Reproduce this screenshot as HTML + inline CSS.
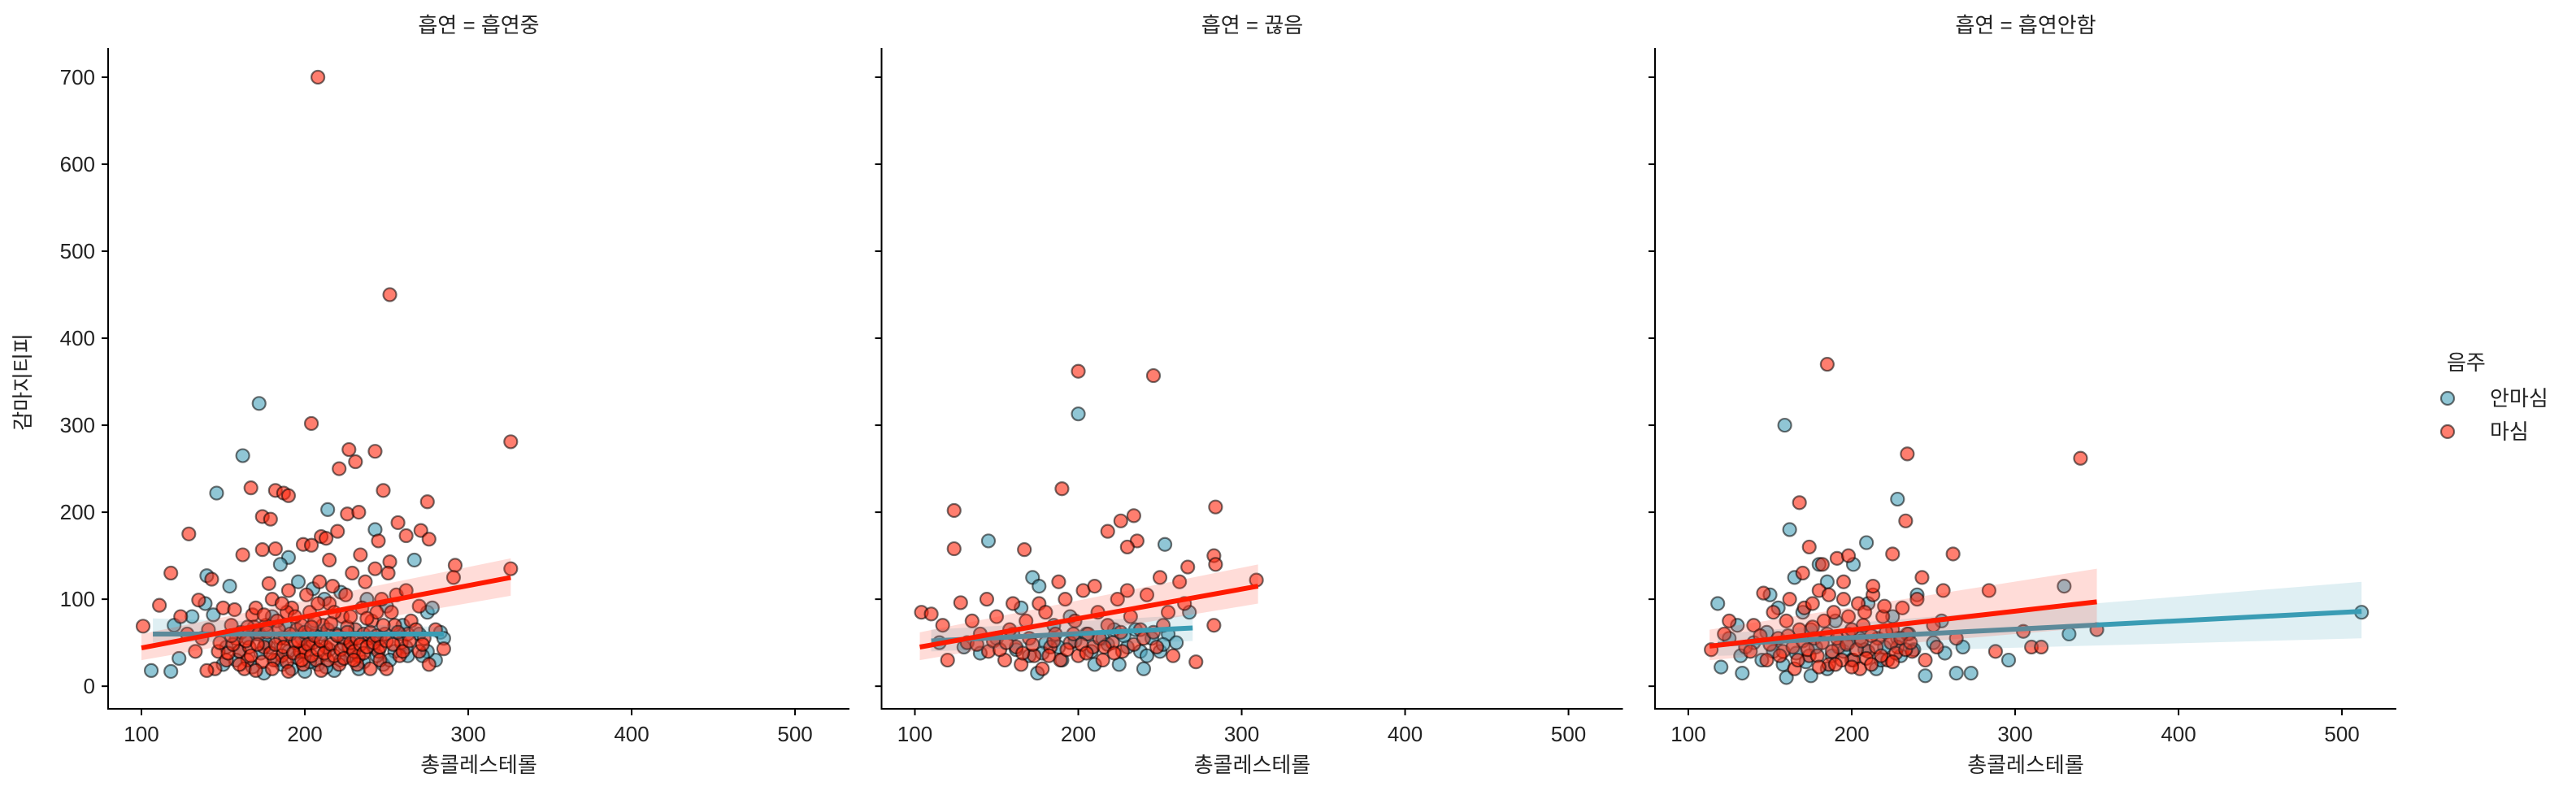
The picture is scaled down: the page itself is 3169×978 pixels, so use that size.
<!DOCTYPE html>
<html><head><meta charset="utf-8">
<style>
html,body{margin:0;padding:0;background:#fff;}
svg{display:block;font-family:"Liberation Sans","Noto Sans CJK KR",sans-serif;}
</style></head>
<body>
<svg id="chart" width="3169" height="978" viewBox="0 0 3169 978" xmlns="http://www.w3.org/2000/svg"></svg>
<script>
// ---- data ----
const panelTitles = ["흡연 = 흡연중", "흡연 = 끊음", "흡연 = 흡연안함"];
const xTicks = [100, 200, 300, 400, 500];
const yTicks = [0, 100, 200, 300, 400, 500, 600, 700];
const legendLabels = ["안마심", "마심"];

// panel 1 (흡연중) non-drinkers
const p1NoDrink = [[172,325],[162,265],[146,222],[214,203],[243,180],[267,145],[140,127],[154,115],[139,95],[144,82],[131,80],[120,70],[106,18],[118,17],[123,32],[275,85],[278,90],[280,30],[190,148],[185,140],[196,120],[205,112],[222,108],[238,100],[250,92],[260,70],[270,60],[283,62],[285,55],[170,60],[178,45],[175,15],[183,30],[192,20],[200,17],[208,25],[218,18],[228,35],[236,28],[248,25],[160,40],[150,25],[165,55],[188,70],[210,60],[230,55],[242,45],[255,40],[263,35],[275,40],[200,45],[215,42],[180,80],[212,100],
[152,45],[158,30],[168,22],[173,38],[186,25],[195,33],[203,28],[213,22],[222,30],[233,20],[244,35],[252,30],[262,45],[272,35],[176,50],[198,55],[224,48],[246,55],[258,60],[190,40]];
// panel 1 drinkers
const p1Drink = [[208,700],[252,450],[204,302],[227,272],[243,270],[221,250],[231,258],[326,281],[248,225],[167,228],[182,225],[187,222],[190,219],[275,212],[174,195],[179,192],[226,198],[233,200],[129,175],[245,167],[210,172],[262,173],[271,179],[276,169],[257,188],[162,151],[174,157],[182,158],[199,163],[204,162],[215,145],[234,151],[252,143],[292,139],[326,135],[291,125],[118,130],[111,93],[124,80],[101,69],[135,99],[143,123],[220,178],[213,170],
[150,90],[155,70],[158,55],[160,40],[165,30],[168,82],[172,60],[175,45],[178,118],[180,100],[183,75],[186,35],[188,55],[190,110],[192,90],[195,65],[197,40],[199,25],[201,105],[203,85],[205,50],[207,30],[209,120],[211,70],[213,45],[215,95],[217,115],[219,60],[221,25],[223,80],[225,105],[227,45],[229,130],[231,65],[233,35],[235,90],[237,120],[239,55],[241,75],[243,135],[245,40],[247,100],[249,60],[251,130],[253,85],[256,105],[259,50],[262,110],[265,75],[270,40],[273,55],[276,25],[280,65],[285,43],[270,92],[147,40],[145,20],[152,30],[140,18],[137,55],[133,40],[128,60],[141,65],[163,20],[170,90],[185,55],[194,50],[198,70],[200,40],[206,75],[214,30],[224,55],[232,25],[240,20],[244,85],[255,70],[263,60],[148,50],[157,88],[166,45],[176,70],[181,30],[189,85],[202,60],[208,95],[218,85],[226,68],[236,60],[246,30],[258,35],
[153,38],[156,48],[161,62],[164,52],[167,35],[169,68],[171,48],[174,28],[177,62],[179,38],[182,48],[184,65],[187,45],[189,28],[191,60],[193,38],[196,52],[198,30],[200,62],[202,48],[204,35],[206,58],[208,42],[210,52],[212,38],[214,65],[216,48],[218,35],[220,58],[222,42],[224,32],[226,62],[228,50],[230,40],[232,55],[234,48],[236,38],[238,45],[240,62],[242,50],[244,58],[246,45],[248,70],[250,52],[254,48],[257,62],[260,40],[264,52],[268,65],[272,48],[186,95],[194,80],[204,68],[216,72],[228,80],[238,78],[175,82],[165,68],[155,58],[160,25],[170,18],[180,20],[190,17],[210,18],[230,30],[250,20]];

// panel 2 (끊음)
const p2NoDrink = [[200,313],[145,167],[253,163],[172,125],[176,115],[268,85],[255,60],[238,40],[240,20],[160,60],[175,15],[210,25],[115,50],[130,45],[150,55],[165,90],[185,70],[195,80],[205,60],[215,55],[222,65],[230,45],[245,55],[250,40],[260,50],[190,30],[180,50],[170,35],[225,25],[235,65],
[178,38],[188,45],[198,52],[208,40],[218,48],[228,58],[242,35],[252,48],[162,42],[140,38]];
const p2Drink = [[200,362],[246,357],[190,227],[124,202],[284,206],[234,196],[226,190],[218,178],[167,157],[124,158],[236,167],[230,160],[283,150],[284,140],[267,137],[309,122],[250,125],[262,120],[283,70],[272,28],[104,85],[110,83],[128,96],[144,100],[230,110],
[135,75],[140,60],[145,40],[150,80],[155,30],[158,65],[162,45],[165,25],[168,75],[170,55],[173,35],[176,95],[178,20],[180,85],[183,45],[186,60],[189,30],[192,100],[195,50],[198,75],[200,35],[203,110],[206,60],[209,45],[212,85],[215,30],[218,70],[221,50],[224,100],[227,40],[232,80],[238,65],[242,105],[248,45],[255,85],[258,35],[265,95],[120,30],[132,50],[117,70],[210,115],[188,120],[160,95],
[148,52],[152,42],[166,38],[172,48],[182,35],[185,52],[193,42],[197,60],[202,48],[205,38],[213,55],[216,45],[222,38],[226,62],[234,48],[240,55],[246,62],[252,70],[138,48],[156,50]];

// panel 3 (흡연안함)
const p3NoDrink = [[159,300],[228,215],[162,180],[209,165],[201,140],[330,115],[512,85],[333,60],[296,30],[118,95],[264,15],[273,15],[245,12],[257,38],[268,45],[120,22],[133,15],[160,10],[125,55],[130,70],[140,50],[150,105],[155,90],[165,125],[170,85],[175,65],[180,140],[185,120],[190,75],[195,40],[200,30],[205,55],[210,95],[215,20],[220,45],[225,80],[230,35],[235,60],[240,105],[250,50],[255,75],[175,12],[185,20],[145,30],
[152,40],[158,25],[166,38],[172,28],[178,45],[188,35],[198,50],[208,42],[218,30],[228,55],[238,42],[132,35],[148,62]];
const p3Drink = [[185,370],[234,267],[340,262],[168,211],[233,190],[174,160],[262,152],[225,152],[182,140],[191,147],[198,150],[284,110],[305,63],[310,45],[316,45],[350,65],[288,40],[114,42],[125,75],[146,107],[256,110],[243,125],[122,60],[135,45],[140,70],[148,30],[152,85],[155,55],[158,40],[162,100],[165,20],[168,65],[171,90],[174,35],[177,55],[180,110],[183,75],[186,25],[189,85],[192,45],[195,120],[198,60],[201,30],[204,95],[207,70],[210,40],[213,105],[216,55],[219,80],[222,30],[225,65],[228,45],[231,90],[234,60],[237,40],[240,100],[245,30],[250,70],[252,45],[264,55],[213,115],[170,130],[195,100],[160,75],[205,20],
[150,48],[156,35],[161,58],[164,45],[167,30],[170,52],[173,42],[176,68],[179,35],[182,50],[185,60],[188,40],[191,55],[194,30],[197,48],[200,65],[203,42],[206,52],[209,32],[212,58],[215,45],[218,35],[221,62],[224,50],[227,38],[230,55],[233,42],[236,50],[144,58],[138,40],[180,22],[190,25],[200,22],[212,25],[225,28],[176,95],[186,105],[208,85],[220,92],[198,80]];

// regression fits: [x0, x1], [y0, y1], CI bands lower/upper at ends
const fitX = [[100,326],[107,285],[103,310],[110,270],[113,350],[118,512]];
const fitY = [[44,125],[60,60],[45,115],[52,67],[46,97],[48,86]];
const ciLow = [[30,104],[50,55],[30,95],[40,52],[30,68],[35,55]];
const ciHigh = [[60,147],[78,68],[62,140],[65,82],[65,135],[60,120]];

// ---- drawing ----
const NS = "http://www.w3.org/2000/svg";
const svg = document.getElementById("chart");
const panelLeft = [133, 1084.5, 2036];
const PW = 912, TOP = 59, BOT = 872;
const XMIN = 79.6, XMAX = 533.3, YMIN = -26, YMAX = 733.6;
function sx(p, v){ return panelLeft[p] + (v - XMIN) / (XMAX - XMIN) * PW; }
function sy(v){ return BOT - (v - YMIN) / (YMAX - YMIN) * (BOT - TOP); }
function mk(tag, attrs, parent){
  const e = document.createElementNS(NS, tag);
  for (const k in attrs) e.setAttribute(k, attrs[k]);
  (parent || svg).appendChild(e);
  return e;
}
const blueFill = "rgba(70,160,185,0.6)", redFill = "rgba(255,40,15,0.6)";
const blueLine = "#3a9cb4", redLine = "#ff1a00";
const series = [[p1NoDrink,p1Drink],[p2NoDrink,p2Drink],[p3NoDrink,p3Drink]];

for (let p = 0; p < 3; p++){
  const g = mk("g", {});
  
  
  const t = mk("text", {x: panelLeft[p] + PW/2, y: 40, "text-anchor": "middle", "font-size": 26, fill: "#222"}, g);
  t.textContent = panelTitles[p];
  
  
  const sl = mk("line", {x1: panelLeft[p], y1: TOP, x2: panelLeft[p], y2: BOT, stroke: "#000", "stroke-width": 2}, g);
  
  
  const sb = mk("line", {x1: panelLeft[p]-1, y1: BOT, x2: panelLeft[p]+PW, y2: BOT, stroke: "#000", "stroke-width": 2}, g);
  
  
  yTicks.forEach(v => {
    const y = sy(v);
    const tk = mk("line", {x1: panelLeft[p]-8, y1: y, x2: panelLeft[p], y2: y, stroke: "#000", "stroke-width": 2}, g);
    
    
    if (p === 0){
      const tl = mk("text", {x: panelLeft[p]-16, y: y+9, "text-anchor": "end", "font-size": 26, fill: "#222"}, g);
      tl.textContent = v;
      
      
    }
  });
  xTicks.forEach(v => {
    const x = sx(p, v);
    const tk = mk("line", {x1: x, y1: BOT, x2: x, y2: BOT+8, stroke: "#000", "stroke-width": 2}, g);
    
    
    const tl = mk("text", {x: x, y: BOT+40, "text-anchor": "middle", "font-size": 26, fill: "#222"}, g);
    tl.textContent = v;
    
    
  });
  const xl = mk("text", {x: panelLeft[p] + PW/2, y: 950, "text-anchor": "middle", "font-size": 26, fill: "#222"}, g);
  xl.textContent = "총콜레스테롤";
  
  

  [[0, blueFill],[1, redFill]].forEach(([s, fill]) => {
    series[p][s].forEach(pt => {
      const c = mk("circle", {cx: sx(p, pt[0]), cy: sy(pt[1]), r: 8, fill: fill, stroke: "rgba(0,0,0,0.55)", "stroke-width": 2.2}, g);
      
      
    });
  });
  [[1, "rgba(58,156,180,0.16)", blueLine],[0, "rgba(255,60,40,0.18)", redLine]].forEach(([k, bandFill, lc]) => {
    const i = p*2 + k;
    const x0 = sx(p, fitX[i][0]), x1 = sx(p, fitX[i][1]);
    const band = mk("polygon", {points: `${x0},${sy(ciHigh[i][0])} ${x1},${sy(ciHigh[i][1])} ${x1},${sy(ciLow[i][1])} ${x0},${sy(ciLow[i][0])}`, fill: bandFill}, g);
    
    
    const ln = mk("line", {x1: x0, y1: sy(fitY[i][0]), x2: x1, y2: sy(fitY[i][1]), stroke: lc, "stroke-width": 6}, g);
    
    
  });
}
const yt = mk("text", {x: 0, y: 0, "text-anchor": "middle", "font-size": 26, fill: "#222", transform: "translate(37,470) rotate(-90)"});
yt.textContent = "감마지티피";



const lg = mk("g", {});


const ltt = mk("text", {x: 3010, y: 455, "font-size": 26, fill: "#222"}, lg);
ltt.textContent = "음주";


[[blueFill, 490],[redFill, 531]].forEach(([f, y], i) => {
  const m = mk("circle", {cx: 3011, cy: y, r: 8, fill: f, stroke: "rgba(0,0,0,0.55)", "stroke-width": 2.2}, lg);
  
  
  const tx = mk("text", {x: 3063, y: y+9, "font-size": 26, fill: "#222"}, lg);
  tx.textContent = legendLabels[i];
  
  
});
</script>
</body></html>
